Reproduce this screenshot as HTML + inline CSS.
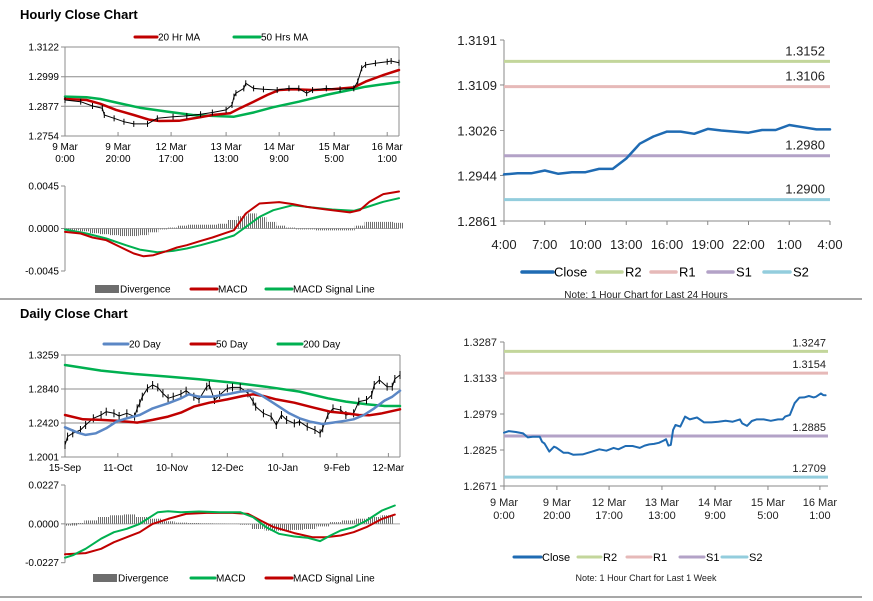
<!DOCTYPE html>
<html><head><meta charset="utf-8">
<style>
html,body{margin:0;padding:0;background:#fff;}
svg{display:block;font-family:"Liberation Sans",sans-serif;}
</style></head>
<body>
<svg id="root" width="873" height="601" viewBox="0 0 873 601" xmlns="http://www.w3.org/2000/svg">
<defs>
<pattern id="hatch" width="2" height="4" patternUnits="userSpaceOnUse"><rect x="0" y="0" width="1" height="4" fill="#6d6d6d"/></pattern>
</defs>
<text x="20" y="19" font-size="13" font-weight="bold" fill="#000">Hourly Close Chart</text>
<text x="20" y="318" font-size="13" font-weight="bold" fill="#000">Daily Close Chart</text>
<line x1="0" y1="299" x2="862" y2="299" stroke="#8a8a8a" stroke-width="1.5"/>
<line x1="0" y1="597" x2="862" y2="597" stroke="#8a8a8a" stroke-width="1.5"/>
</svg>
<script>
// ===== Hourly price chart data =====
const hCloseHours=[0,8,14,19,20,25,30,35,42,47,55,62,69,75,82,85,86,87,91,92,96,101,108,114,119,123,126,133,140,147,149,151,153,158,164,166,170];
const hCloseVals=[1.2903,1.2896,1.2878,1.2869,1.2841,1.2827,1.2813,1.2804,1.2804,1.2827,1.2834,1.2837,1.2844,1.2851,1.2862,1.2882,1.2917,1.2931,1.2951,1.2972,1.2951,1.2947,1.2944,1.2951,1.2951,1.2931,1.2944,1.2951,1.2947,1.2951,1.2979,1.3034,1.3048,1.3055,1.3061,1.3064,1.3057];
const hMa20Hours=[0,11,18,26,35,43,48,58,69,75,84,89,96,103,109,116,126,136,147,153,162,170];
const hMa20Vals=[1.2907,1.2903,1.2887,1.2862,1.2841,1.2821,1.2816,1.2817,1.2832,1.2841,1.2848,1.2869,1.2896,1.2924,1.2944,1.2947,1.2944,1.2947,1.2955,1.2979,1.3006,1.3027];
const hMa50Hours=[0,11,18,28,38,52,65,75,86,96,106,119,133,145,153,162,170];
const hMa50Vals=[1.2917,1.2914,1.2907,1.2889,1.2871,1.2855,1.2841,1.2837,1.2834,1.2851,1.2873,1.2896,1.2924,1.2944,1.2958,1.2968,1.2977];
const hPriceTicks=[1.2754,1.2877,1.2999,1.3122];
const hTimeLabels=[["9 Mar","0:00"],["9 Mar","20:00"],["12 Mar","17:00"],["13 Mar","13:00"],["14 Mar","9:00"],["15 Mar","5:00"],["16 Mar","1:00"]];
const hTimeLabelHours=[0,27,54,82,109,137,164];
// ===== Hourly MACD data =====
const hMacdHours=[0,8,14,21,28,35,40,45,52,57,62,69,75,82,86,92,99,109,116,123,133,145,150,155,162,170];
const hMacdVals=[-0.00036,-0.00053,-0.00095,-0.00124,-0.00195,-0.00265,-0.00294,-0.00283,-0.00237,-0.00201,-0.00177,-0.00131,-0.00095,-0.00046,-0.00018,0.00159,0.00265,0.00279,0.00258,0.00229,0.00201,0.00170,0.00194,0.00283,0.00364,0.00392];
const hSigHours=[0,11,21,31,38,47,55,62,69,77,86,92,99,106,116,126,136,147,153,162,170];
const hSigVals=[-0.00011,-0.00053,-0.00106,-0.00177,-0.00223,-0.00251,-0.00237,-0.00212,-0.00177,-0.00131,-0.00074,0.00017,0.00123,0.00194,0.00247,0.00222,0.00201,0.00187,0.00222,0.00283,0.00321];
const hDivHours=[0,5,10,15,20,25,30,35,40,45,50,55,60,65,70,75,80,85,90,95,100,105,110,115,120,125,130,135,140,145,150,155,160,165,170];
const hDivVals=[-0.0001,-0.0002,-0.0003,-0.0005,-0.0006,-0.0007,-0.0008,-0.0008,-0.0007,-0.0004,-0.0001,0.0001,0.0003,0.0004,0.0004,0.0004,0.0005,0.0009,0.0013,0.0016,0.0012,0.0007,0.0003,0.0001,-0.0001,-0.0001,-0.0002,-0.0002,-0.0002,-0.0002,0.0003,0.0007,0.0007,0.0007,0.0006];
const hMacdTicks=[-0.0045,0.0000,0.0045];
// ===== 24h pivot chart data =====
const dayHours=[0,1,2,3,4,5,6,7,8,9,10,11,12,13,14,15,16,17,18,19,20,21,22,23,24];
const dayClose=[1.2946,1.2948,1.2948,1.2953,1.2947,1.2950,1.2950,1.2956,1.2956,1.2975,1.3002,1.3015,1.3024,1.3024,1.3020,1.3029,1.3026,1.3024,1.3022,1.3027,1.3027,1.3036,1.3032,1.3028,1.3028];
const dayLevelNames=["R2","R1","S1","S2"];
const dayLevels=[1.3152,1.3106,1.2980,1.2900];
const dayTicks=[1.2861,1.2944,1.3026,1.3109,1.3191];
const dayTickTexts=["1.2861","1.2944","1.3026","1.3109","1.3191"];
const dayTimeLabels=["4:00","7:00","10:00","13:00","16:00","19:00","22:00","1:00","4:00"];
// ===== week pivot chart data =====
const wkHours=[0,2,5,8,10,12,15,16,17,19,21,22,25,27,29,33,37,40,43,46,48,51,54,57,59,61,63,65,67,68,69,70,71,72,74,76,78,81,84,87,90,93,96,99,100,102,104,106,109,112,115,117,118,120,122,124,126,128,130,131,133,134,135];
const wkClose=[1.2899,1.2906,1.2902,1.2896,1.2879,1.2882,1.2882,1.2860,1.2853,1.2818,1.2839,1.2835,1.2813,1.2813,1.2805,1.2806,1.2818,1.2828,1.2822,1.2834,1.2828,1.2842,1.2842,1.2834,1.2844,1.2849,1.2851,1.2856,1.2865,1.2871,1.2844,1.2847,1.2911,1.2932,1.2925,1.2968,1.2956,1.2964,1.2943,1.2943,1.2946,1.2950,1.2946,1.2956,1.2939,1.2928,1.2949,1.2956,1.2956,1.2950,1.2956,1.2956,1.2968,1.2975,1.3025,1.3049,1.3050,1.3056,1.3050,1.3053,1.3067,1.3060,1.3059];
const wkLevels=[1.3247,1.3154,1.2885,1.2709];
const wkTicks=[1.2671,1.2825,1.2979,1.3133,1.3287];
const wkTimeLabels=[["9 Mar","0:00"],["9 Mar","20:00"],["12 Mar","17:00"],["13 Mar","13:00"],["14 Mar","9:00"],["15 Mar","5:00"],["16 Mar","1:00"]];
const wkTimeLabelHours=[0,22.2,44.1,66.3,88.6,110.8,132.6];
// ===== Daily price chart data =====
const dCloseDays=[0,1,3,6,8,11,14,16,19,21,24,27,28,29,30,32,34,36,38,40,42,45,47,50,52,55,56,58,60,63,65,68,71,73,74,77,80,82,84,86,89,91,94,97,99,100,102,104,107,109,112,114,117,119,120,122,125,127,128,130];
const dCloseVals=[1.2149,1.2252,1.2293,1.2334,1.2396,1.2478,1.2519,1.2560,1.2540,1.2507,1.2540,1.2499,1.2601,1.2663,1.2745,1.2848,1.2889,1.2860,1.2786,1.2725,1.2745,1.2778,1.2819,1.2745,1.2712,1.2868,1.2889,1.2704,1.2766,1.2848,1.2860,1.2860,1.2786,1.2684,1.2622,1.2540,1.2499,1.2396,1.2519,1.2458,1.2416,1.2437,1.2375,1.2334,1.2293,1.2355,1.2519,1.2601,1.2581,1.2519,1.2540,1.2684,1.2704,1.2766,1.2889,1.2951,1.2868,1.2868,1.2963,1.3012];
const d20Days=[0,5,8,12,16,20,24,29,34,40,45,48,52,57,63,68,72,76,80,83,87,91,95,100,104,109,112,116,120,124,127,130];
const d20Vals=[1.2367,1.2301,1.2273,1.2293,1.2355,1.2437,1.2478,1.2519,1.2601,1.2663,1.2725,1.2774,1.2745,1.2745,1.2774,1.2807,1.2819,1.2766,1.2684,1.2622,1.2540,1.2478,1.2437,1.2408,1.2425,1.2449,1.2466,1.2519,1.2601,1.2696,1.2745,1.2819];
const d50Days=[0,7,14,20,28,34,40,45,50,56,63,69,73,77,82,89,96,103,109,114,118,123,130];
const d50Vals=[1.2519,1.2466,1.2458,1.2449,1.2425,1.2458,1.2499,1.2548,1.2622,1.2671,1.2712,1.2753,1.2774,1.2753,1.2712,1.2671,1.2614,1.2560,1.2540,1.2519,1.2515,1.2540,1.2589];
const d200Days=[0,14,27,40,52,65,78,91,102,109,117,124,130];
const d200Vals=[1.3136,1.3066,1.3025,1.2992,1.2959,1.2918,1.2868,1.2807,1.2725,1.2684,1.2651,1.2630,1.2630];
const dPriceTicks=[1.2001,1.2420,1.2840,1.3259];
const dDateLabels=["15-Sep","11-Oct","10-Nov","12-Dec","10-Jan","9-Feb","12-Mar"];
const dDateLabelDays=[0,20.5,41.5,63,84.5,105.5,125.5];
// ===== Daily MACD data =====
const dMacdDays=[0,3,8,14,19,24,29,33,36,40,45,52,60,68,73,78,83,89,94,99,103,107,112,117,123,128];
const dMacdVals=[-0.0198,-0.0184,-0.0146,-0.0087,-0.0049,-0.0029,0,0.0039,0.0068,0.0074,0.0068,0.0072,0.0068,0.0068,0.0039,-0.0019,-0.0058,-0.0074,-0.0081,-0.0101,-0.0068,-0.0039,-0.0019,0.0019,0.0078,0.0107];
const dSigDays=[0,8,14,19,24,29,34,40,47,55,65,71,76,81,89,96,101,107,112,117,123,128];
const dSigVals=[-0.0178,-0.0171,-0.0146,-0.0107,-0.0078,-0.0049,0,0.0029,0.0058,0.0064,0.0064,0.0058,0.0019,-0.0019,-0.0054,-0.0078,-0.0078,-0.0068,-0.0049,-0.0019,0.0029,0.0054];
const dDivDays=[0,5,10,15,20,25,30,35,40,45,50,55,60,65,70,75,80,85,90,95,100,105,110,115,120,125];
const dDivVals=[-0.001,0.0005,0.002,0.004,0.005,0.0055,0.004,0.003,0.0015,0.0007,0.0005,0.0003,0.0002,0.0001,-0.0005,-0.003,-0.004,-0.004,-0.0035,-0.003,-0.0015,0.001,0.002,0.003,0.004,0.005];
const dMacdTicks=[-0.0227,0.0000,0.0227];

const NS="http://www.w3.org/2000/svg";
const root=document.getElementById('root');
function lin(d0,d1,r0,r1){return v=>r0+(v-d0)/(d1-d0)*(r1-r0);}
function mk(tag,attrs){const e=document.createElementNS(NS,tag);for(const k in attrs)e.setAttribute(k,attrs[k]);root.appendChild(e);return e;}
function txt(x,y,s,size,anchor,fill){const e=mk('text',{x:x,y:y,'font-size':size,'text-anchor':anchor||'start',fill:fill||'#000'});e.textContent=s;return e;}
function poly(xs,ys,sx,sy,color,w){const pts=xs.map((x,i)=>sx(x).toFixed(1)+','+sy(ys[i]).toFixed(1)).join(' ');return mk('polyline',{points:pts,fill:'none',stroke:color,'stroke-width':w,'stroke-linejoin':'round','stroke-linecap':'round'});}
function legendLine(x1,x2,y,color,w,label,size,gap){
  const l=mk('line',{x1:x1,y1:y,x2:x2,y2:y,stroke:color,'stroke-width':w,'stroke-linecap':'round'});
  
  
  const t=txt(x2+(gap||1),y+size*0.36,label,size);
  
  
}
function legendBar(x1,x2,y,label,size){
  const r=mk('rect',{x:x1,y:y-4,width:x2-x1,height:8,fill:'#6d6d6d'});
  
  
  const t=txt(x2+1,y+size*0.36,label,size);
  
  
}
const GRID='#8c8c8c';

// ---------- Hourly price ----------
(function(){
  const L=65,R=399,T=47,B=136;
  const sx=lin(0,170,L,R), sy=lin(1.2754,1.3122,B,T);
  hPriceTicks.forEach(v=>{
    const g=mk('line',{x1:L-4,y1:sy(v),x2:R,y2:sy(v),stroke:GRID,'stroke-width':1});
    
    
    const t=txt(L-6,sy(v)+3.5,v.toFixed(4),10,'end');
    
    
  });
  const ax=mk('line',{x1:L,y1:T,x2:L,y2:B,stroke:GRID,'stroke-width':1});
  
  
  const rx=mk('line',{x1:R,y1:T,x2:R,y2:B,stroke:GRID,'stroke-width':1});
  
  
  hTimeLabels.forEach((lb,i)=>{
    const x=sx(hTimeLabelHours[i]);
    const tk=mk('line',{x1:x,y1:B-4,x2:x,y2:B,stroke:GRID});
    
    
    const a=txt(x,150,lb[0],10,'middle');
    
    
    const b=txt(x,162,lb[1],10,'middle');
    
    
  });
  const m50=poly(hMa50Hours,hMa50Vals,sx,sy,'#00b050',2.5);
  
  
  const m20=poly(hMa20Hours,hMa20Vals,sx,sy,'#c00000',2.5);
  
  
  const cl=poly(hCloseHours,hCloseVals,sx,sy,'#000',1);
  
  
  hCloseHours.forEach((h,i)=>{
    const y=sy(hCloseVals[i]);
    const k=mk('line',{x1:sx(h),y1:y-3,x2:sx(h),y2:y+3,stroke:'#000','stroke-width':1});
    
    
  });
  legendLine(135,157,37,'#c00000',3,'20 Hr MA',10);
  legendLine(234,260,37,'#00b050',3,'50 Hrs MA',10);
})();

// ---------- Hourly MACD ----------
(function(){
  const L=65,R=399,T=186,B=271;
  const sx=lin(0,170,L,R), sy=lin(-0.0045,0.0045,B,T);
  hMacdTicks.forEach(v=>{
    const t=txt(L-6,sy(v)+3.5,v.toFixed(4),10,'end');
    
    
    const k=mk('line',{x1:L-4,y1:sy(v),x2:L,y2:sy(v),stroke:GRID});
    
    
  });
  const ax=mk('line',{x1:L,y1:T,x2:L,y2:B,stroke:GRID});
  
  
  const z=mk('line',{x1:L,y1:sy(0),x2:R,y2:sy(0),stroke:'#aaa'});
  
  
  const bw=sx(5)-sx(0);
  hDivHours.forEach((h,i)=>{
    const v=hDivVals[i];const y0=sy(0),y1=sy(v);
    const r=mk('rect',{x:Math.max(L,sx(h)-bw/2),y:Math.min(y0,y1),width:bw,height:Math.abs(y1-y0),fill:'url(#hatch)'});
    
    
  });
  const s=poly(hSigHours,hSigVals,sx,sy,'#00b050',2);
  
  
  const m=poly(hMacdHours,hMacdVals,sx,sy,'#c00000',2);
  
  
  legendBar(95,119,289,'Divergence',10);
  legendLine(191,217,289,'#c00000',3,'MACD',10);
  legendLine(266,292,289,'#00b050',3,'MACD Signal Line',10);
})();

// ---------- 24h pivot chart ----------
(function(){
  const L=504,R=830,T=40,B=221;
  const sx=lin(0,24,L,R), sy=lin(1.2861,1.3191,B,T);
  const colors=['#c3d69b','#e6b9b8','#b3a2c7','#93cddd'];
  dayTicks.forEach((v,i)=>{
    const t=txt(L-7,sy(v)+5,dayTickTexts[i],13,'end','#222');
    
    
    const k=mk('line',{x1:L-4,y1:sy(v),x2:L,y2:sy(v),stroke:'#888'});
    
    
  });
  const ay=mk('line',{x1:L,y1:T,x2:L,y2:B,stroke:'#888'});
  
  
  const axx=mk('line',{x1:L,y1:B,x2:R,y2:B,stroke:'#888'});
  
  
  dayTimeLabels.forEach((lb,i)=>{
    const x=sx(i*3);
    const k=mk('line',{x1:x,y1:B,x2:x,y2:B+4,stroke:'#888'});
    
    
    const t=txt(x,249,lb,13,'middle','#222');
    
    
  });
  dayLevels.forEach((v,i)=>{
    const l=mk('line',{x1:L,y1:sy(v),x2:R,y2:sy(v),stroke:colors[i],'stroke-width':3});
    
    
    const t=txt(825,sy(v)-6,v.toFixed(4),13,'end','#222');
    
    
  });
  const c=poly(dayHours,dayClose,sx,sy,'#1f6bb3',2.5);
  
  
  legendLine(522,553,272,'#1f6bb3',3.5,'Close',13,1);
  legendLine(597,622,272,colors[0],3.5,'R2',13,3);
  legendLine(651,676,272,colors[1],3.5,'R1',13,3);
  legendLine(708,733,272,colors[2],3.5,'S1',13,3);
  legendLine(764,790,272,colors[3],3.5,'S2',13,3);
  const n=txt(646,298,'Note: 1 Hour Chart for Last 24 Hours',10,'middle','#222');
  
  
})();

// ---------- Daily price ----------
(function(){
  const L=65,R=400,T=355,B=457;
  const sx=lin(0,130,L,R), sy=lin(1.2001,1.3259,B,T);
  dPriceTicks.forEach(v=>{
    const g=mk('line',{x1:L-4,y1:sy(v),x2:R,y2:sy(v),stroke:GRID});
    
    
    const t=txt(L-6,sy(v)+3.5,v.toFixed(4),10,'end');
    
    
  });
  const ax=mk('line',{x1:L,y1:T,x2:L,y2:B,stroke:GRID});
  
  
  const rx=mk('line',{x1:R,y1:T,x2:R,y2:B,stroke:GRID});
  
  
  dDateLabels.forEach((lb,i)=>{
    const x=sx(dDateLabelDays[i]);
    const k=mk('line',{x1:x,y1:B-4,x2:x,y2:B,stroke:GRID});
    
    
    const t=txt(x,471,lb,10,'middle');
    
    
  });
  const g2=poly(d200Days,d200Vals,sx,sy,'#00b050',2.5);
  
  
  const c=poly(dCloseDays,dCloseVals,sx,sy,'#000',1);
  
  
  dCloseDays.forEach((d,i)=>{
    const y=sy(dCloseVals[i]);
    const k=mk('line',{x1:sx(d),y1:y-4,x2:sx(d),y2:y+4,stroke:'#000','stroke-width':1});
    
    
  });
  const r5=poly(d50Days,d50Vals,sx,sy,'#c00000',2.5);
  
  
  const b2=poly(d20Days,d20Vals,sx,sy,'#5b87c5',2.5);
  
  
  legendLine(104,128,344,'#5b87c5',3,'20 Day',10);
  legendLine(191,215,344,'#c00000',3,'50 Day',10);
  legendLine(278,302,344,'#00b050',3,'200 Day',10);
})();

// ---------- Daily MACD ----------
(function(){
  const L=65,R=400,T=485,B=562.7;
  const sx=lin(0,130,L,R), sy=lin(-0.0227,0.0227,B,T);
  dMacdTicks.forEach(v=>{
    const t=txt(L-6,sy(v)+3.5,v.toFixed(4),10,'end');
    
    
    const k=mk('line',{x1:L-4,y1:sy(v),x2:L,y2:sy(v),stroke:GRID});
    
    
  });
  const ax=mk('line',{x1:L,y1:T,x2:L,y2:B,stroke:GRID});
  
  
  const z=mk('line',{x1:L,y1:sy(0),x2:R,y2:sy(0),stroke:'#aaa'});
  
  
  const bw=sx(5)-sx(0);
  dDivDays.forEach((d,i)=>{
    const v=dDivVals[i];const y0=sy(0),y1=sy(v);
    const r=mk('rect',{x:Math.max(L,sx(d)-bw/2),y:Math.min(y0,y1),width:bw,height:Math.abs(y1-y0),fill:'url(#hatch)'});
    
    
  });
  const s=poly(dSigDays,dSigVals,sx,sy,'#c00000',2);
  
  
  const m=poly(dMacdDays,dMacdVals,sx,sy,'#00b050',2);
  
  
  legendBar(93,117,578,'Divergence',10);
  legendLine(191,215,578,'#00b050',3,'MACD',10);
  legendLine(266,292,578,'#c00000',3,'MACD Signal Line',10);
})();

// ---------- Week pivot chart ----------
(function(){
  const L=504,R=828,T=342,B=486;
  const sx=lin(0,136,L,R), sy=lin(1.2671,1.3287,B,T);
  const colors=['#c3d69b','#e6b9b8','#b3a2c7','#93cddd'];
  wkTicks.forEach(v=>{
    const t=txt(L-7,sy(v)+4,v.toFixed(4),11,'end','#222');
    
    
    const k=mk('line',{x1:L-4,y1:sy(v),x2:L,y2:sy(v),stroke:'#888'});
    
    
  });
  const ay=mk('line',{x1:L,y1:T,x2:L,y2:B,stroke:'#888'});
  
  
  const axx=mk('line',{x1:L,y1:B,x2:R,y2:B,stroke:'#888'});
  
  
  wkTimeLabels.forEach((lb,i)=>{
    const x=sx(wkTimeLabelHours[i]);
    const k=mk('line',{x1:x,y1:B,x2:x,y2:B+4,stroke:'#888'});
    
    
    const a=txt(x,506,lb[0],11,'middle','#222');
    
    
    const b=txt(x,519,lb[1],11,'middle','#222');
    
    
  });
  wkLevels.forEach((v,i)=>{
    const l=mk('line',{x1:L,y1:sy(v),x2:R,y2:sy(v),stroke:colors[i],'stroke-width':3});
    
    
    const t=txt(826,sy(v)-5,v.toFixed(4),11,'end','#222');
    
    
  });
  const c=poly(wkHours,wkClose,sx,sy,'#1f6bb3',2);
  
  
  legendLine(514,541,557,'#1f6bb3',3,'Close',11,1);
  legendLine(578,601,557,colors[0],3,'R2',11,2);
  legendLine(627,651,557,colors[1],3,'R1',11,2);
  legendLine(680,704,557,colors[2],3,'S1',11,2);
  legendLine(722,747,557,colors[3],3,'S2',11,2);
  const n=txt(646,581,'Note: 1 Hour Chart for  Last 1 Week',9,'middle','#222');
  
  
})();
</script>
</body></html>
